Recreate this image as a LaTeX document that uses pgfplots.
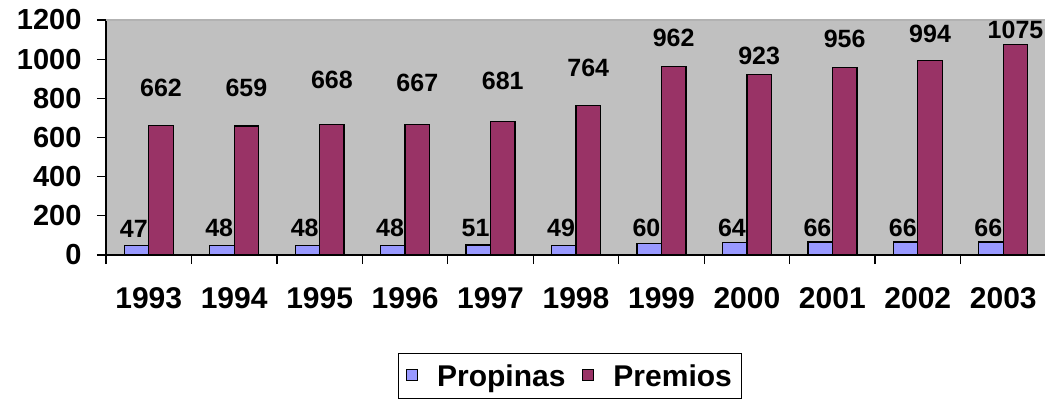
\documentclass[border=0pt]{standalone}
\usepackage{pgfplots}
\pgfplotsset{compat=1.18}
\usepackage{pgfplotstable}
\usepackage{fontspec}
\setmainfont{Liberation Sans}
\definecolor{prop}{HTML}{9999FF}
\definecolor{prem}{HTML}{993366}
\definecolor{bg}{HTML}{C0C0C0}
\pgfplotsset{/pgf/number format/.cd, 1000 sep={}, assume math mode=true}

\pgfplotstableread{
x prop prem lprop lprem
0 47 662 90 805
1 48 659 90 805
2 48 668 90 846
3 48 667 90 834
4 51 681 90 842
5 49 764 90 910
6 60 962 90 1064
7 64 923 90 970
8 66 956 90 1055
9 66 994 90 1081
10 66 1075 90 1101
}\datatable

\begin{document}
\begin{tikzpicture}[x=1pt,y=1pt]
\begin{axis}[
  at={(106pt,147pt)}, anchor=south west,
  scale only axis, width=940pt, height=235pt,
  xmin=-0.5, xmax=10.5, ymin=0, ymax=1200,
  axis x line*=bottom, axis y line*=left,
  axis line style={black, line width=1.2pt},
  axis background/.style={fill=bg},
  clip=false,
  ytick={0,200,...,1200},
  xtick={0,...,10},
  xticklabels={1993,1994,1995,1996,1997,1998,1999,2000,2001,2002,2003},
  major x tick style={draw=none},
  minor xtick={-0.5,0.5,...,10.5},
  tick align=outside,
  major tick length=9pt, minor tick length=9pt,
  tick style={black, line width=1.2pt},
  yticklabel style={font=\bfseries\fontsize{29}{29}\selectfont, xshift=-12pt},
  xticklabel style={font=\bfseries\fontsize{30}{30}\selectfont, yshift=-20pt},
  legend style={at={(0.4936,-0.515)}, anchor=center, draw=black, line width=1pt,
    inner xsep=8pt, inner ysep=9pt,
    font=\bfseries\fontsize{30}{36}\selectfont, legend columns=2,
    /tikz/every odd column/.append style={column sep=17pt},
    /tikz/every even column/.append style={column sep=15pt}},
]
\addplot[ybar, bar width=0.2865, bar shift=-0.1433, fill=prop, draw=black, line width=1.3pt,
  legend image code/.code={\draw[fill=prop, draw=black, line width=1pt] (0pt,-4pt) rectangle (11pt,7pt);}]
  table[x=x, y=prop]{\datatable};
\addlegendentry{Propinas}
\addplot[ybar, bar width=0.2865, bar shift=0.1433, fill=prem, draw=black, line width=1.3pt,
  legend image code/.code={\draw[fill=prem, draw=black, line width=1pt] (0pt,-4pt) rectangle (11pt,7pt);}]
  table[x=x, y=prem]{\datatable};
\addlegendentry{Premios}
\addplot[draw=none, forget plot, nodes near coords, point meta=explicit,
  every node near coord/.append style={inner sep=0pt, font=\bfseries\fontsize{25}{25}\selectfont}]
  table[x expr=\thisrow{x}-0.175, y=lprop, meta=prop]{\datatable};
\addplot[draw=none, forget plot, nodes near coords, point meta=explicit,
  every node near coord/.append style={inner sep=0pt, font=\bfseries\fontsize{25}{25}\selectfont}]
  table[x expr=\thisrow{x}+0.1433, y=lprem, meta=prem]{\datatable};
\draw[color=gray!60, line width=2pt] (rel axis cs:0,1) -- (rel axis cs:1,1);
\end{axis}
\pgfresetboundingbox
\useasboundingbox (0,0) rectangle (1045,402);
\end{tikzpicture}
\end{document}
